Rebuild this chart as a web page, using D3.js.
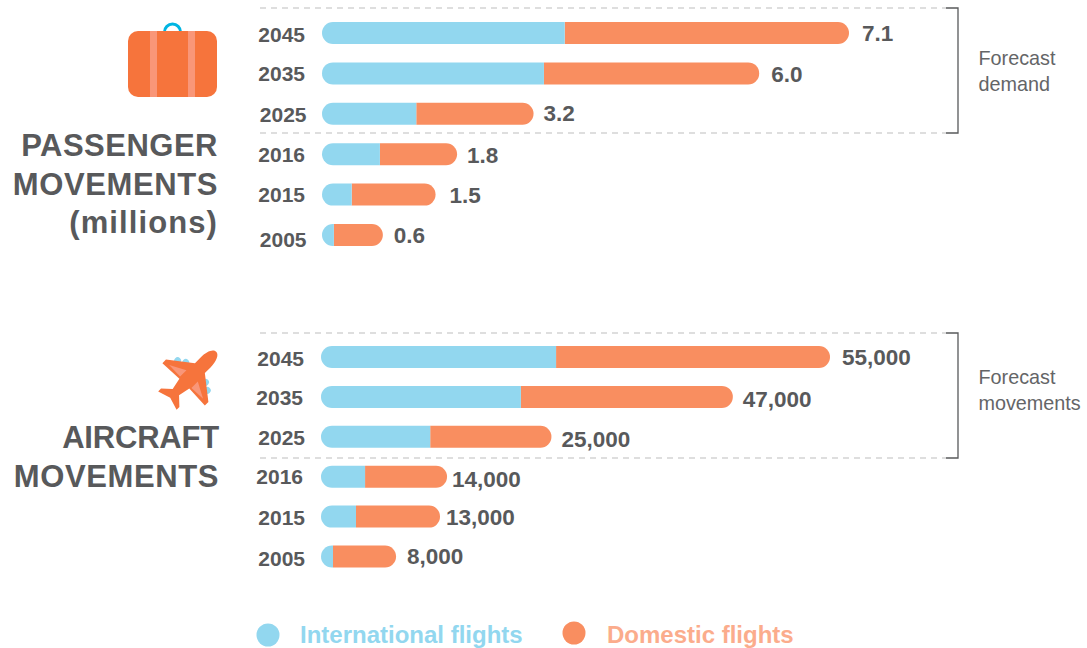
<!DOCTYPE html>
<html>
<head>
<meta charset="utf-8">
<style>
html,body{margin:0;padding:0;background:#fff;}
svg{display:block;font-family:"Liberation Sans",Arial,sans-serif;}
</style>
<script src="https://d3js.org/d3.v7.min.js"></script>
</head>
<body>
<div id="chart"></div>
<script>
// data
var years=["2045","2035","2025","2016","2015","2005"];
var paxLabels=["7.1","6.0","3.2","1.8","1.5","0.6"];
var paxIntl=[3.27,2.99,1.27,0.78,0.40,0.16];
var paxDom=[3.83,2.90,1.58,1.04,1.13,0.66];
var acLabels=["55,000","47,000","25,000","14,000","13,000","8,000"];
var acIntl=[25400,21600,11800,4760,3780,1300];
var acDom=[29600,22900,13100,8860,9080,6810];

var blue="#92d7ef", orange="#f98e60", textCol="#58595b";
var width=1087, height=648, barH=22;

var svg=d3.select("#chart").append("svg").attr("width",width).attr("height",height);

// left rounded / right rounded pieces of a bar
function leftBar(x0,x1,y,h){
    var r=h/2, p=d3.path();
    p.moveTo(x1,y-r);
    p.lineTo(x0+r,y-r);
    p.arc(x0+r,y,r,-Math.PI/2,Math.PI/2,true);
    p.lineTo(x1,y+r);
    p.closePath();
    return p.toString();
}
function rightBar(x0,x1,y,h){
    var r=h/2, p=d3.path();
    p.moveTo(x0,y-r);
    p.lineTo(x1-r,y-r);
    p.arc(x1-r,y,r,-Math.PI/2,Math.PI/2);
    p.lineTo(x0,y+r);
    p.closePath();
    return p.toString();
}

function panel(opt){
    var x=d3.scaleLinear().domain([0,opt.max]).range([opt.left,opt.right]);
    var y=d3.scalePoint().domain(years).range(opt.yRange);
    var rows=years.map((d,i)=>({year:d,intl:opt.intl[i],dom:opt.dom[i],label:opt.labels[i],i:i}));

    var g=svg.append("g");
    var row=g.selectAll("g").data(rows).enter().append("g");

    row.append("path").attr("fill",orange)
    .attr("d",d=>rightBar(x(d.intl),x(d.intl+d.dom),y(d.year),barH));
    row.append("path").attr("fill",blue)
    .attr("d",d=>leftBar(opt.left,x(d.intl),y(d.year),barH));

    // the hand placed labels sit a little off the rows
    row.append("text").text(d=>d.year)
    .attr("x",d=>opt.yearX[d.i]).attr("y",d=>opt.yearY[d.i])
    .attr("text-anchor","end").attr("fill",textCol)
    .attr("font-weight","bold").attr("font-size","21px");

    row.append("text").text(d=>d.label)
    .attr("x",d=>x(d.intl+d.dom)+opt.gaps[d.i]).attr("y",d=>opt.valueY[d.i])
    .attr("fill",textCol).attr("font-weight","bold").attr("font-size","22.5px");

    // forecast bracket
    g.selectAll("line.dash").data(opt.lines).enter().append("line")
    .attr("x1",260).attr("x2",946).attr("y1",d=>d).attr("y2",d=>d)
    .attr("stroke","#bdbdbd").attr("stroke-width",1.2).attr("stroke-dasharray","6 5");
    g.append("path").attr("fill","none").attr("stroke","#58595b").attr("stroke-width",1.3)
    .attr("d",d3.line()([[946,opt.lines[0]],[958,opt.lines[0]],[958,opt.lines[1]],[946,opt.lines[1]]]));

    g.selectAll("text.note").data(opt.note).enter().append("text")
    .attr("class","note").text(d=>d)
    .attr("x",978.5).attr("y",(d,i)=>opt.noteY+i*26)
    .attr("fill","#646567").attr("font-size","19.8px");

    g.selectAll("text.title").data(opt.title).enter().append("text")
    .attr("class","title").text(d=>d)
    .attr("x",opt.titleX).attr("y",(d,i)=>opt.titleY+i*38.5)
    .attr("text-anchor","end").attr("fill",textCol)
    .attr("font-weight","bold").attr("font-size","31px")
    .attr("letter-spacing",(d,i)=>opt.titleSpacing[i]+"px");
}

panel({left:322,right:849,max:7.1,yRange:[33,235],intl:paxIntl,dom:paxDom,labels:paxLabels,
    gaps:[13,12,10,10,14,11],
    yearX:[305,305,306.5,305,305,306.5],yearY:[41.5,81,121.5,161.5,201.5,247],
    valueY:[41,82,121,163,203,243],
    lines:[8,133],note:["Forecast","demand"],noteY:65,
    title:["PASSENGER","MOVEMENTS","(millions)"],titleX:218,titleY:156,titleSpacing:[0.5,0.6,1.1]});
panel({left:321,right:830,max:55000,yRange:[357,556.5],intl:acIntl,dom:acDom,labels:acLabels,
    gaps:[12,10,10,5,6,11],
    yearX:[304,303,305,303,305,305],yearY:[365.5,404.5,444.5,483.5,524.5,566],
    valueY:[365,407,447,487,525,564],
    lines:[333,458],note:["Forecast","movements"],noteY:384,
    title:["AIRCRAFT","MOVEMENTS"],titleX:219,titleY:448,titleSpacing:[-0.2,0.6]});

// suitcase
var bag=svg.append("g");
bag.append("path").attr("fill","none").attr("stroke","#00b5e2").attr("stroke-width",3)
.attr("d","M164.5,32 A8,8 0 0 1 180.5,32");
bag.append("rect").attr("x",128).attr("y",31).attr("width",89).attr("height",66).attr("rx",10).attr("fill","#f6743c");
bag.selectAll("rect.strap").data([150,188]).enter().append("rect")
.attr("class","strap").attr("x",d=>d).attr("y",31).attr("width",7).attr("height",66).attr("fill","#f99678");

// plane
var plane=svg.append("g").attr("transform","translate(190,378) rotate(45)");
plane.selectAll("circle").data([[-21,-3.5],[-14,-8],[21,-3.5],[14,-8]]).enter().append("circle")
.attr("cx",d=>d[0]).attr("cy",d=>d[1]).attr("r",3.4).attr("fill",blue);
plane.append("path").attr("fill","#f6743c")
.attr("d","M0,-37 C4.5,-37 7,-30 7,-22 L7,-14 L30,4 L30,9 L7,8 L4.5,20 L13,28 L13,32 L0,28 L-13,32 L-13,28 L-4.5,20 L-7,8 L-30,9 L-30,4 L-7,-14 L-7,-22 C-7,-30 -4.5,-37 0,-37Z");
plane.selectAll("path.wing").data(["M8,-3 L24,5.5 L8,6Z","M-8,-3 L-24,5.5 L-8,6Z"]).enter().append("path")
.attr("class","wing").attr("d",d=>d).attr("fill","#f99678");

// legend
var legendNames=["International flights","Domestic flights"];
var legendFill=[blue,orange];
var legendText=[blue,"#fbac8c"];
var legend=svg.selectAll("g.legend").data(legendNames).enter().append("g").attr("class","legend");
legend.append("circle").attr("cx",(d,i)=>[268,574][i]).attr("cy",(d,i)=>[635,633][i]).attr("r",11.5)
.attr("fill",(d,i)=>legendFill[i]);
legend.append("text").text(d=>d).attr("x",(d,i)=>[300,607][i]).attr("y",643)
.attr("fill",(d,i)=>legendText[i]).attr("font-weight","bold").attr("font-size","24px");
</script>
</body>
</html>
